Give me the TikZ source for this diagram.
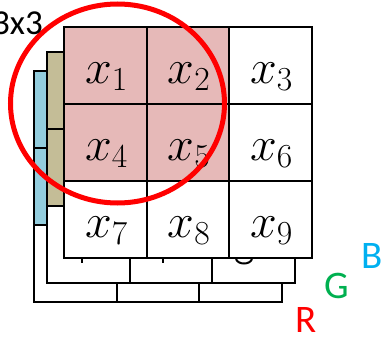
\documentclass[tikz,border=0pt]{standalone}
\usepackage{fix-cm}
\usepackage{fontspec}
\newfontfamily\calibri{Carlito}
\definecolor{pinkcell}{HTML}{E6B9B8}
\definecolor{tancell}{HTML}{C4BD97}
\definecolor{bluecell}{HTML}{93CDDD}
\definecolor{gcol}{HTML}{00B050}
\definecolor{bcol}{HTML}{00B0F0}
\begin{document}
\begin{tikzpicture}[x=1pt,y=-1pt,
  gridline/.style={line width=2.8pt, line join=miter},
  cellx/.style={anchor=base, inner sep=0pt, font=\fontsize{48}{52}\selectfont},
  rgb/.style={anchor=base, inner sep=0pt, font=\calibri\fontsize{39}{44}\selectfont}]
\useasboundingbox (0,0) rectangle (385,337);
\foreach \dx/\dy/\col in {-30/44/bluecell, -17/25/tancell, 0/0/pinkcell} {
  \begin{scope}[shift={(\dx,\dy)}]
    \fill[white] (64,27) rectangle (312,258);
    \fill[\col] (64,27) rectangle (229,181);
    \draw[gridline] (64,27) rectangle (312,258);
    \draw[gridline] (147,27) -- (147,258) (229,27) -- (229,258)
                    (64,104) -- (312,104) (64,181) -- (312,181);
  \end{scope}
}
% small glyph fragments of the layer behind
\draw[line width=2pt] (82,259) -- (82,263) (163,259) -- (163,263);
\draw[line width=2pt] (236,259) .. controls (238,265) and (250,265) .. (252,259);
% cell labels
\node[cellx] (x1) at (106.5,83) {$x_1$};
\node[cellx] (x2) at (189,83) {$x_2$};
\node[cellx] (x3) at (271.5,83) {$x_3$};
\node[cellx] (x4) at (106.5,160) {$x_4$};
\node[cellx] (x5) at (189,160) {$x_5$};
\node[cellx] (x6) at (271.5,160) {$x_6$};
\node[cellx] (x7) at (106.5,237) {$x_7$};
\node[cellx] (x8) at (189,237) {$x_8$};
\node[cellx] (x9) at (271.5,237) {$x_9$};
% red circle
\draw[red, line width=5pt] (117.5,103.5) ellipse [x radius=107, y radius=99.5];
% texts
\node[anchor=base east, inner sep=0pt, font=\calibri\fontsize{35}{40}\selectfont] (t) at (43,35) {3x3};
\node[rgb, text=red] (R) at (306,332) {R};
\node[rgb, text=gcol] (G) at (336.5,298) {G};
\node[rgb, text=bcol] (B) at (372.5,268) {B};
\end{tikzpicture}
\end{document}
